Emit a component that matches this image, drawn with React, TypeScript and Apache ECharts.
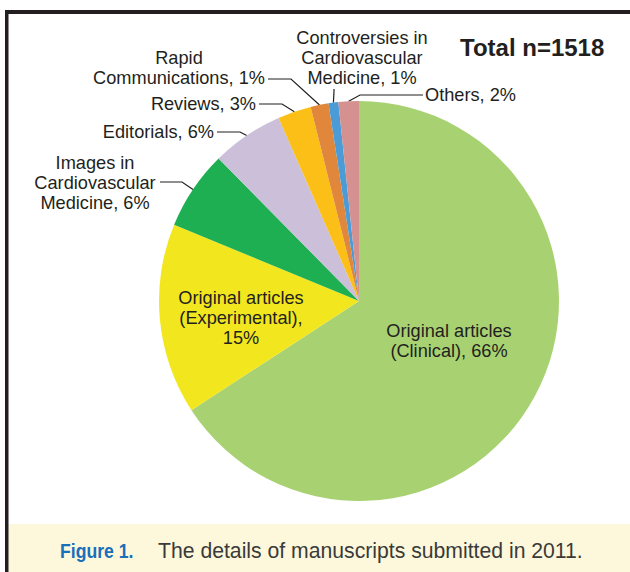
import React, { useEffect, useRef } from "react";
import * as echarts from "echarts";

// ---- data ----
const categories = [
  "Original articles (Clinical)",
  "Original articles (Experimental)",
  "Images in Cardiovascular Medicine",
  "Editorials",
  "Reviews",
  "Rapid Communications",
  "Controversies in Cardiovascular Medicine",
  "Others",
];
const counts = [999, 234, 97, 88, 41, 22, 12, 25];
const labelTexts = [
  "Original articles\n(Clinical), 66%",
  "Original articles\n(Experimental),\n15%",
  "Images in\nCardiovascular\nMedicine, 6%",
  "Editorials, 6%",
  "Reviews, 3%",
  "Rapid\nCommunications, 1%",
  "Controversies in\nCardiovascular\nMedicine, 1%",
  "Others, 2%",
];
const totalText = "Total n=1518";
const captionLabel = "Figure 1.";
const captionText = "The details of manuscripts submitted in 2011.";

// ---- styles / layout ----
const colors = ["#a8d272", "#f2e71f", "#1daf52", "#cbbfd9", "#fbbf17", "#e0873b", "#4b9bd6", "#d49190"];
const CX = 359;
const CY = 301;
const R = 200;
// label anchor and leader line elbow/end (null = no line)
const labelLayoutSpec: Array<{ x: number; y: number; align: string; line: number[][] | null }> = [
  { x: 449, y: 341, align: "center", line: null },
  { x: 241, y: 318, align: "center", line: null },
  { x: 95, y: 183, align: "center", line: [[182, 182], [160, 182]] },
  { x: 214, y: 132, align: "right", line: [[240, 132], [217, 132]] },
  { x: 256, y: 104, align: "right", line: [[282, 104], [259, 104]] },
  { x: 179, y: 68, align: "center", line: [[291, 79], [268, 79]] },
  { x: 362, y: 58, align: "center", line: [[334, 91], [334, 89]] },
  { x: 425, y: 95, align: "left", line: [[360, 95], [423, 95]] },
];

const FONT = "'Liberation Sans', Arial, Helvetica, sans-serif";
const TEXT_COLOR = "#231f20";

export default function App() {
  const ref = useRef<HTMLDivElement>(null);
  useEffect(() => {
    document.body.style.margin = "0";
    if (!ref.current) return;
    const chart = echarts.init(ref.current, undefined, { renderer: "svg" });
    const total = counts.reduce((a, b) => a + b, 0);
    const edgePoint = (idx: number) => {
      let cum = 0;
      for (let i = 0; i < idx; i++) cum += counts[i];
      const mid = ((cum + counts[idx] / 2) / total) * Math.PI * 2;
      return [CX + R * Math.sin(mid), CY - R * Math.cos(mid)];
    };
    chart.setOption({
      animation: false,
      backgroundColor: "#ffffff",
      graphic: [
        { type: "rect", z: 0, shape: { x: 8, y: 524, width: 622, height: 48 }, style: { fill: "#fdf8dc" } },
        { type: "rect", z: 10, shape: { x: 5, y: 10, width: 625, height: 4 }, style: { fill: "#231f20" } },
        { type: "rect", z: 10, shape: { x: 5, y: 10, width: 3.5, height: 562 }, style: { fill: "#231f20" } },
        {
          type: "text",
          x: 460,
          y: 47,
          style: {
            text: totalText,
            font: `bold 24px ${FONT}`,
            fill: TEXT_COLOR,
            verticalAlign: "middle",
            textAlign: "left",
          },
        },
        {
          type: "text",
          x: 60,
          y: 550,
          scaleX: 0.84,
          style: {
            text: captionLabel,
            font: `bold 21px ${FONT}`,
            fill: "#1a6fba",
            verticalAlign: "middle",
          },
        },
        {
          type: "text",
          x: 158,
          y: 550,
          style: {
            text: captionText,
            font: `21.2px ${FONT}`,
            fill: "#3a3a3a",
            verticalAlign: "middle",
          },
        },
      ],
      series: [
        {
          type: "pie",
          center: [CX, CY],
          radius: R,
          startAngle: 90,
          clockwise: true,
          avoidLabelOverlap: false,
          itemStyle: { borderWidth: 0 },
          emphasis: { disabled: true },
          label: {
            show: true,
            position: "outside",
            color: TEXT_COLOR,
            fontFamily: FONT,
            fontSize: 18.2,
            lineHeight: 20,
            formatter: (p: any) => labelTexts[p.dataIndex],
          },
          labelLine: { show: true, lineStyle: { color: TEXT_COLOR, width: 1.2 }, length: 10, length2: 10 },
          labelLayout: (params: any) => {
            const s = labelLayoutSpec[params.dataIndex];
            const out: any = { x: s.x, y: s.y, align: s.align, verticalAlign: "middle" };
            if (s.line) out.labelLinePoints = [edgePoint(params.dataIndex), s.line[0], s.line[1]];
            return out;
          },
          data: categories.map((name, i) => ({
            name,
            value: counts[i],
            itemStyle: { color: colors[i] },
            ...(labelLayoutSpec[i].line ? {} : { labelLine: { show: false } }),
          })),
        },
      ],
    });
    return () => chart.dispose();
  }, []);
  return <div ref={ref} style={{ width: 630, height: 572 }} />;
}
